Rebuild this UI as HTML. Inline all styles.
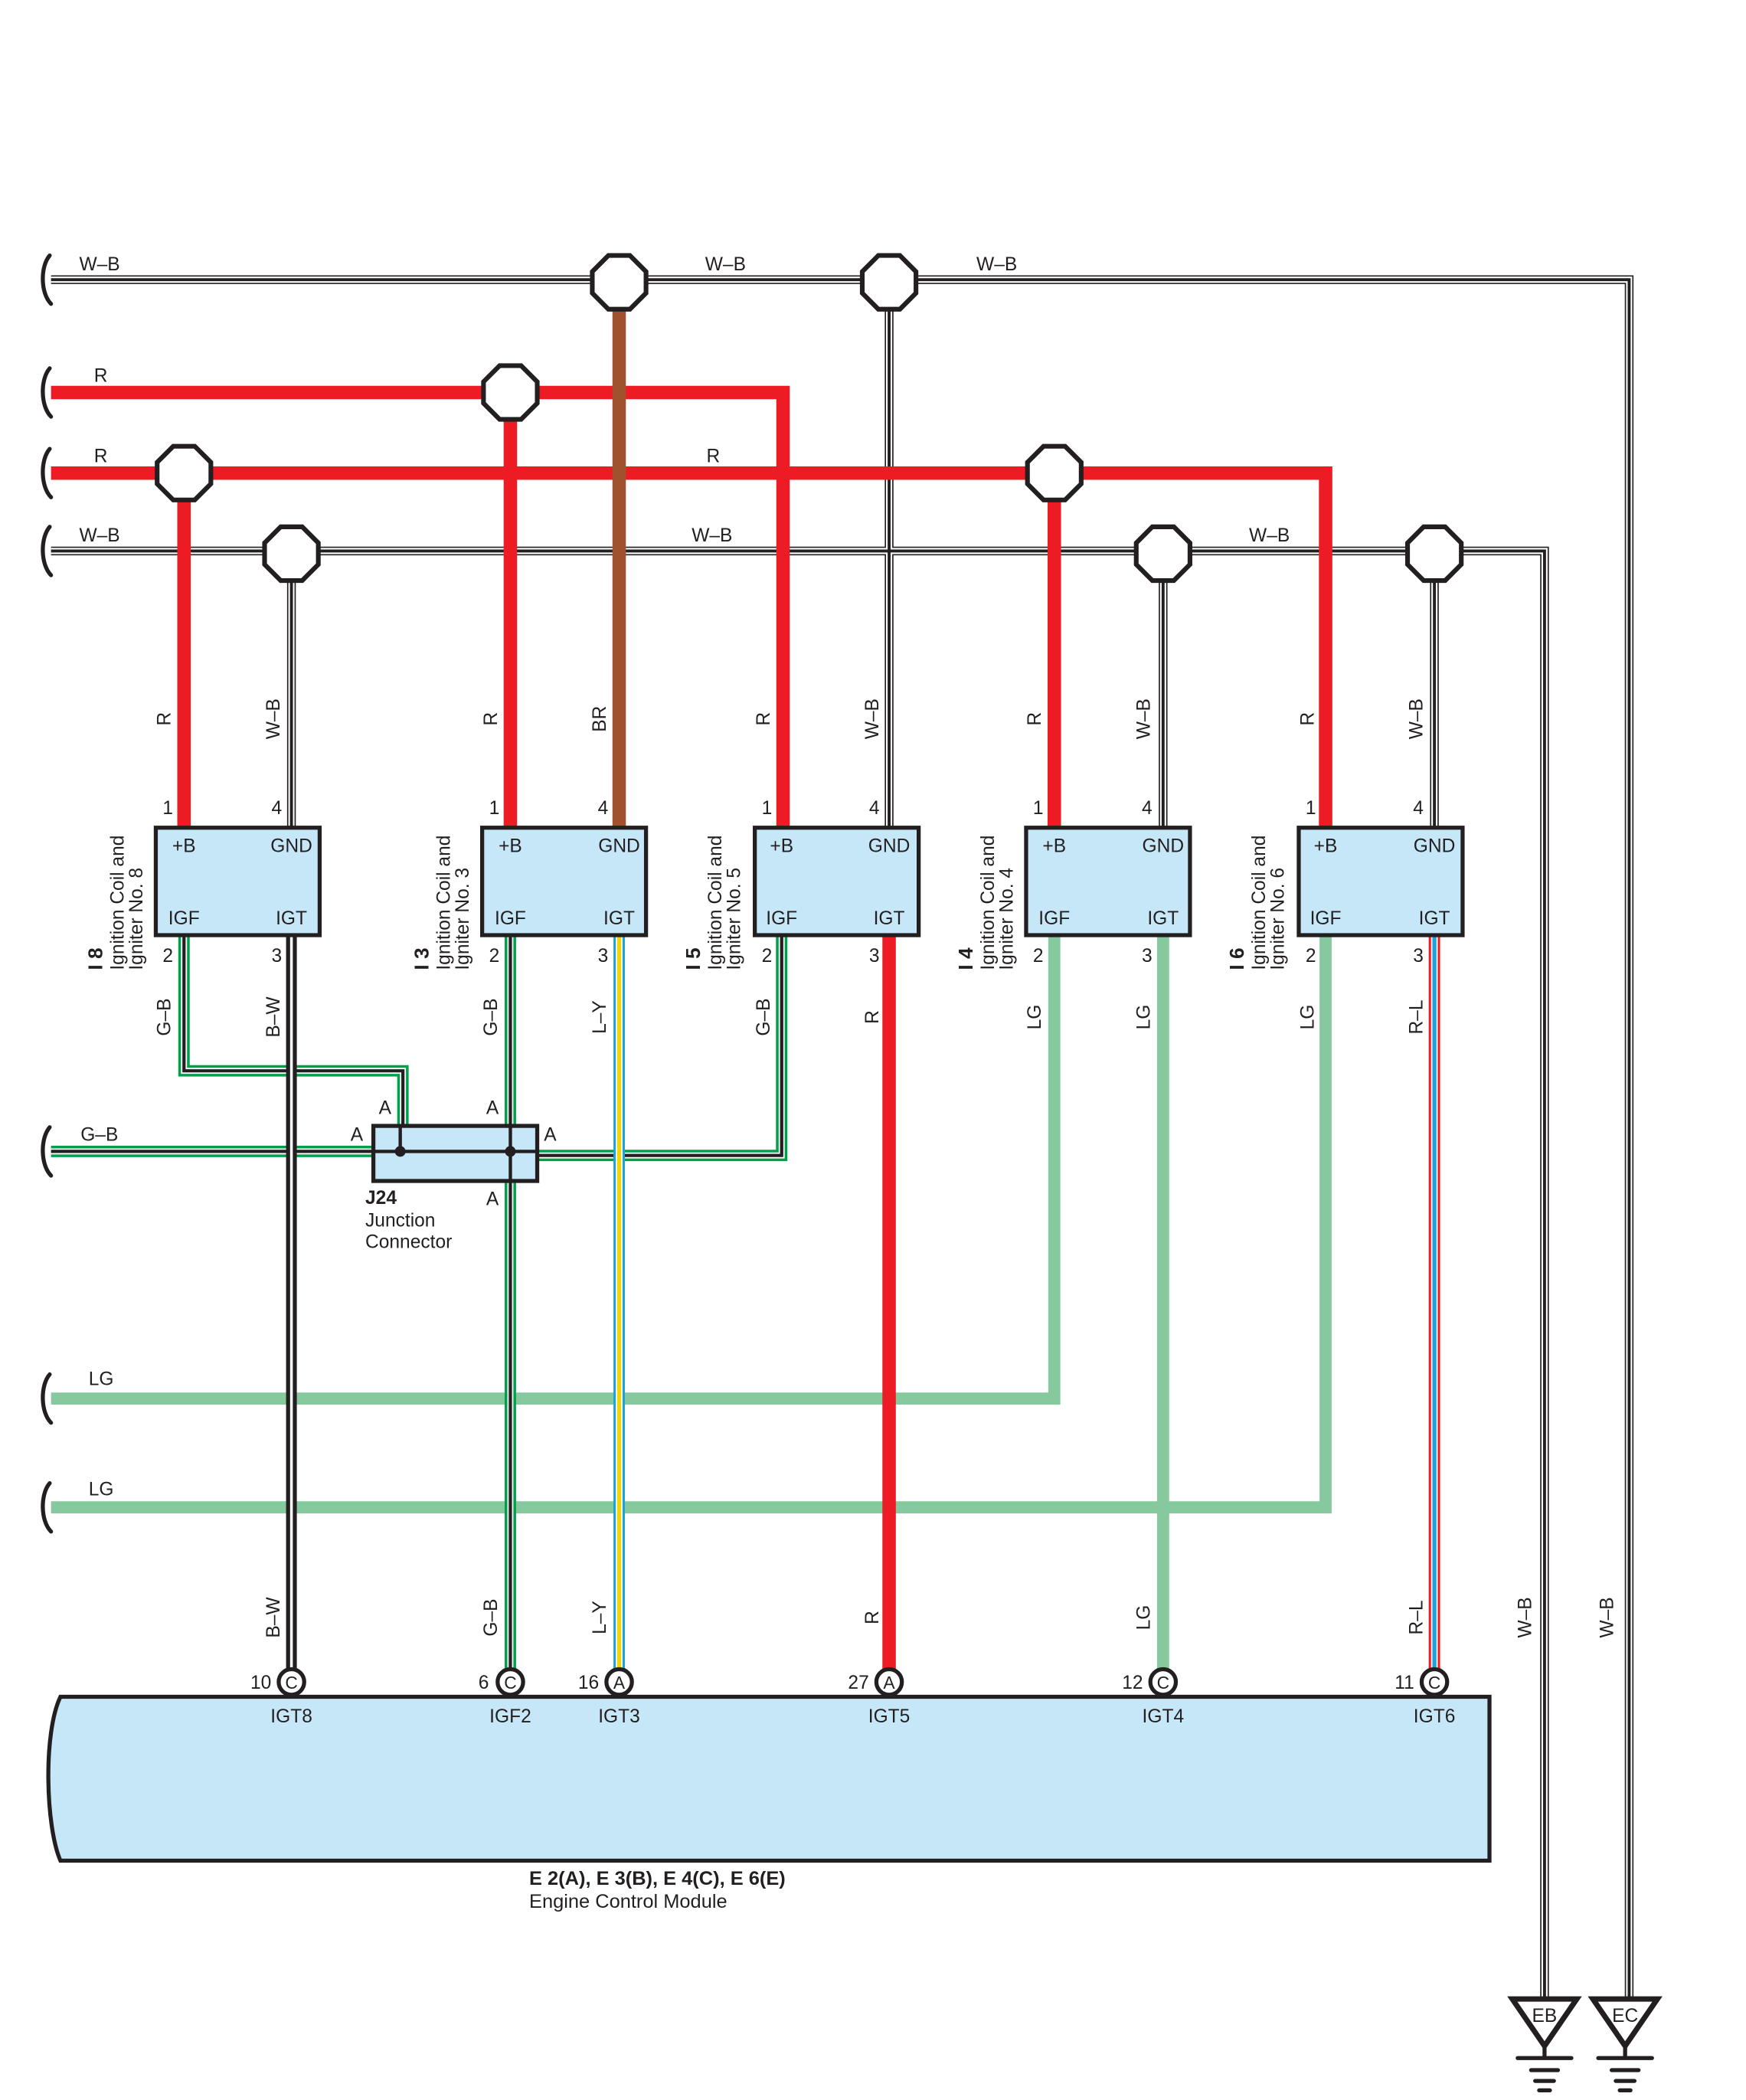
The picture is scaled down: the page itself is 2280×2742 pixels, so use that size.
<!DOCTYPE html>
<html><head><meta charset="utf-8"><style>
html,body{margin:0;padding:0;background:#fff}
svg{display:block}
text{font-family:"Liberation Sans",Arial,sans-serif;fill:#231f20}
</style></head><body>
<svg width="2280" height="2742" viewBox="0 0 1300 1563" xmlns="http://www.w3.org/2000/svg">
<g fill="none" stroke-linejoin="miter" stroke-linecap="butt">
<g>
<path d="M38 208H1213V1487M38 410H1150V1487M662 208V615M217 410V615M866 410V615M1068 410V615" stroke="#231f20" stroke-width="6.5"/>
<path d="M38 208H1213V1487M38 410H1150V1487M662 208V615M217 410V615M866 410V615M1068 410V615" stroke="#fff" stroke-width="4.6"/>
<path d="M38 208H1213V1487M38 410H1150V1487M662 208V615M217 410V615M866 410V615M1068 410V615" stroke="#231f20" stroke-width="2.2"/>
</g>
<path d="M38 292H583V615M380 292V615M38 352H987V615M137 352V615M785 352V615" stroke="#ed1c24" stroke-width="10"/>
<path d="M461 208V615" stroke="#a0522d" stroke-width="10"/>
<path d="M785 697V1041H38M866 697V1251M987 697V1122H38" stroke="#86c99e" stroke-width="9"/>
<path d="M137 697V797H300V838M380 697V1251M582 697V860H400M38 857H278" stroke="#00a04b" stroke-width="8.5"/>
<path d="M137 697V797H300V838M380 697V1251M582 697V860H400M38 857H278" stroke="#fff" stroke-width="4.5"/>
<path d="M137 697V797H300V838M380 697V1251M582 697V860H400M38 857H278" stroke="#231f20" stroke-width="2.4"/>
<path d="M217 697V1251" stroke="#231f20" stroke-width="8"/>
<path d="M217 697V1251" stroke="#fff" stroke-width="2"/>
<path d="M461 697V1251" stroke="#1aa3dc" stroke-width="8.5"/>
<path d="M461 697V1251" stroke="#fff" stroke-width="5"/>
<path d="M461 697V1251" stroke="#f5d500" stroke-width="3"/>
<path d="M662 697V1251" stroke="#ed1c24" stroke-width="10"/>
<path d="M1068 697V1251" stroke="#ed1c24" stroke-width="8.5"/>
<path d="M1068 697V1251" stroke="#fff" stroke-width="5"/>
<path d="M1068 697V1251" stroke="#1aa3dc" stroke-width="3"/>
<g stroke="#231f20" stroke-width="3" stroke-linecap="round">
<path d="M37 190C30 198 30 218 38 226"/>
<path d="M37 274C30 282 30 302 38 310"/>
<path d="M37 334C30 342 30 362 38 370"/>
<path d="M37 392C30 400 30 420 38 428"/>
<path d="M37 839C30 847 30 867 38 875"/>
<path d="M37 1023C30 1031 30 1051 38 1059"/>
<path d="M37 1104C30 1112 30 1132 38 1140"/>
</g>
</g>
<g fill="#fff" stroke="#231f20" stroke-width="3.5">
<path d="M-8 -20H8L20 -8V8L8 20H-8L-20 8V-8Z" transform="translate(461,210)"/>
<path d="M-8 -20H8L20 -8V8L8 20H-8L-20 8V-8Z" transform="translate(662,210)"/>
<path d="M-8 -20H8L20 -8V8L8 20H-8L-20 8V-8Z" transform="translate(380,292)"/>
<path d="M-8 -20H8L20 -8V8L8 20H-8L-20 8V-8Z" transform="translate(137,352)"/>
<path d="M-8 -20H8L20 -8V8L8 20H-8L-20 8V-8Z" transform="translate(785,352)"/>
<path d="M-8 -20H8L20 -8V8L8 20H-8L-20 8V-8Z" transform="translate(217,412)"/>
<path d="M-8 -20H8L20 -8V8L8 20H-8L-20 8V-8Z" transform="translate(866,412)"/>
<path d="M-8 -20H8L20 -8V8L8 20H-8L-20 8V-8Z" transform="translate(1068,412)"/>
</g>
<g fill="#c6e7f8" stroke="#231f20" stroke-width="3">
<rect x="116" y="616" width="122" height="80"/>
<rect x="359" y="616" width="122" height="80"/>
<rect x="562" y="616" width="122" height="80"/>
<rect x="764" y="616" width="122" height="80"/>
<rect x="967" y="616" width="122" height="80"/>
<rect x="278" y="838" width="122" height="41"/>
<path d="M45 1263H1109V1385H45C34 1360 32 1290 45 1263Z"/>
</g>
<g stroke="#231f20" stroke-width="2.5" fill="none"><path d="M278 857H400M298 838V857M380 838V879"/></g>
<circle cx="298" cy="857" r="4" fill="#231f20"/><circle cx="380" cy="857" r="4" fill="#231f20"/>
<g fill="#fff" stroke="#231f20" stroke-width="3">
<circle cx="217" cy="1252" r="9.5"/><circle cx="380" cy="1252" r="9.5"/><circle cx="461" cy="1252" r="9.5"/>
<circle cx="662" cy="1252" r="9.5"/><circle cx="866" cy="1252" r="9.5"/><circle cx="1068" cy="1252" r="9.5"/>
</g>
<g font-size="13" text-anchor="middle">
<text x="217" y="1257">C</text><text x="380" y="1257">C</text><text x="461" y="1257">A</text>
<text x="662" y="1257">A</text><text x="866" y="1257">C</text><text x="1068" y="1257">C</text>
</g>
<g font-size="14" text-anchor="end">
<text x="202" y="1257">10</text><text x="364" y="1257">6</text><text x="446" y="1257">16</text>
<text x="647" y="1257">27</text><text x="851" y="1257">12</text><text x="1053" y="1257">11</text>
</g>
<g font-size="14" text-anchor="middle">
<text x="217" y="1282">IGT8</text><text x="380" y="1282">IGF2</text><text x="461" y="1282">IGT3</text>
<text x="662" y="1282">IGT5</text><text x="866" y="1282">IGT4</text><text x="1068" y="1282">IGT6</text>
</g>
<text x="394" y="1403" font-size="14.5" font-weight="bold">E 2(A), E 3(B), E 4(C), E 6(E)</text>
<text x="394" y="1420" font-size="14.5">Engine Control Module</text>
<g stroke="#231f20" stroke-width="4" fill="#fff" stroke-linejoin="miter">
<path d="M1126 1488H1174L1150 1523Z"/><path d="M1186 1488H1234L1210 1523Z"/>
</g>
<g stroke="#231f20" stroke-width="3" stroke-linecap="round">
<path d="M1150 1523V1532M1130 1532H1170M1140 1541H1160M1143 1549H1157M1146 1556H1154"/>
<path d="M1210 1523V1532M1190 1532H1230M1200 1541H1220M1203 1549H1217M1206 1556H1214"/>
</g>
<text x="1150" y="1505" font-size="14" text-anchor="middle">EB</text>
<text x="1210" y="1505" font-size="14" text-anchor="middle">EC</text>
<g font-size="14">
<g text-anchor="middle">
<text x="137" y="634">+B</text><text x="217" y="634">GND</text><text x="137" y="688">IGF</text><text x="217" y="688">IGT</text>
<text x="380" y="634">+B</text><text x="461" y="634">GND</text><text x="380" y="688">IGF</text><text x="461" y="688">IGT</text>
<text x="582" y="634">+B</text><text x="662" y="634">GND</text><text x="582" y="688">IGF</text><text x="662" y="688">IGT</text>
<text x="785" y="634">+B</text><text x="866" y="634">GND</text><text x="785" y="688">IGF</text><text x="866" y="688">IGT</text>
<text x="987" y="634">+B</text><text x="1068" y="634">GND</text><text x="987" y="688">IGF</text><text x="1068" y="688">IGT</text>
</g>
<g text-anchor="middle">
<text x="125" y="606">1</text><text x="206" y="606">4</text><text x="125" y="716">2</text><text x="206" y="716">3</text>
<text x="368" y="606">1</text><text x="449" y="606">4</text><text x="368" y="716">2</text><text x="449" y="716">3</text>
<text x="571" y="606">1</text><text x="651" y="606">4</text><text x="571" y="716">2</text><text x="651" y="716">3</text>
<text x="773" y="606">1</text><text x="854" y="606">4</text><text x="773" y="716">2</text><text x="854" y="716">3</text>
<text x="976" y="606">1</text><text x="1056" y="606">4</text><text x="976" y="716">2</text><text x="1056" y="716">3</text>
</g>
<text x="59" y="201">W–B</text><text x="525" y="201">W–B</text><text x="727" y="201">W–B</text>
<text x="70" y="284">R</text><text x="70" y="344">R</text><text x="526" y="344">R</text>
<text x="59" y="403">W–B</text><text x="515" y="403">W–B</text><text x="930" y="403">W–B</text>
<text x="60" y="849">G–B</text><text x="66" y="1031">LG</text><text x="66" y="1113">LG</text>
<text x="282" y="829">A</text><text x="362" y="829">A</text><text x="261" y="849">A</text><text x="405" y="849">A</text><text x="362" y="897">A</text>
<text x="272" y="896" font-weight="bold">J24</text><text x="272" y="913">Junction</text><text x="272" y="929">Connector</text>
</g>
<g font-size="14" text-anchor="middle">
<text transform="translate(127,535) rotate(-90)">R</text>
<text transform="translate(208,535) rotate(-90)">W–B</text>
<text transform="translate(370,535) rotate(-90)">R</text>
<text transform="translate(451,535) rotate(-90)">BR</text>
<text transform="translate(573,535) rotate(-90)">R</text>
<text transform="translate(654,535) rotate(-90)">W–B</text>
<text transform="translate(775,535) rotate(-90)">R</text>
<text transform="translate(856,535) rotate(-90)">W–B</text>
<text transform="translate(978,535) rotate(-90)">R</text>
<text transform="translate(1059,535) rotate(-90)">W–B</text>
<text transform="translate(127,757) rotate(-90)">G–B</text>
<text transform="translate(208,757) rotate(-90)">B–W</text>
<text transform="translate(370,757) rotate(-90)">G–B</text>
<text transform="translate(451,757) rotate(-90)">L–Y</text>
<text transform="translate(573,757) rotate(-90)">G–B</text>
<text transform="translate(654,757) rotate(-90)">R</text>
<text transform="translate(775,757) rotate(-90)">LG</text>
<text transform="translate(856,757) rotate(-90)">LG</text>
<text transform="translate(978,757) rotate(-90)">LG</text>
<text transform="translate(1059,757) rotate(-90)">R–L</text>
<text transform="translate(208,1204) rotate(-90)">B–W</text>
<text transform="translate(370,1204) rotate(-90)">G–B</text>
<text transform="translate(451,1204) rotate(-90)">L–Y</text>
<text transform="translate(654,1204) rotate(-90)">R</text>
<text transform="translate(856,1204) rotate(-90)">LG</text>
<text transform="translate(1059,1204) rotate(-90)">R–L</text>
<text transform="translate(1140,1204) rotate(-90)">W–B</text>
<text transform="translate(1201,1204) rotate(-90)">W–B</text>
</g>
<g font-size="14">
<text transform="translate(76,722) rotate(-90)" font-weight="bold" font-size="15">I 8</text>
<text transform="translate(92,722) rotate(-90)">Ignition Coil and</text>
<text transform="translate(106,722) rotate(-90)">Igniter No. 8</text>
<text transform="translate(319,722) rotate(-90)" font-weight="bold" font-size="15">I 3</text>
<text transform="translate(335,722) rotate(-90)">Ignition Coil and</text>
<text transform="translate(349,722) rotate(-90)">Igniter No. 3</text>
<text transform="translate(521,722) rotate(-90)" font-weight="bold" font-size="15">I 5</text>
<text transform="translate(537,722) rotate(-90)">Ignition Coil and</text>
<text transform="translate(551,722) rotate(-90)">Igniter No. 5</text>
<text transform="translate(724,722) rotate(-90)" font-weight="bold" font-size="15">I 4</text>
<text transform="translate(740,722) rotate(-90)">Ignition Coil and</text>
<text transform="translate(754,722) rotate(-90)">Igniter No. 4</text>
<text transform="translate(926,722) rotate(-90)" font-weight="bold" font-size="15">I 6</text>
<text transform="translate(942,722) rotate(-90)">Ignition Coil and</text>
<text transform="translate(956,722) rotate(-90)">Igniter No. 6</text>
</g>
</svg>
</body></html>
